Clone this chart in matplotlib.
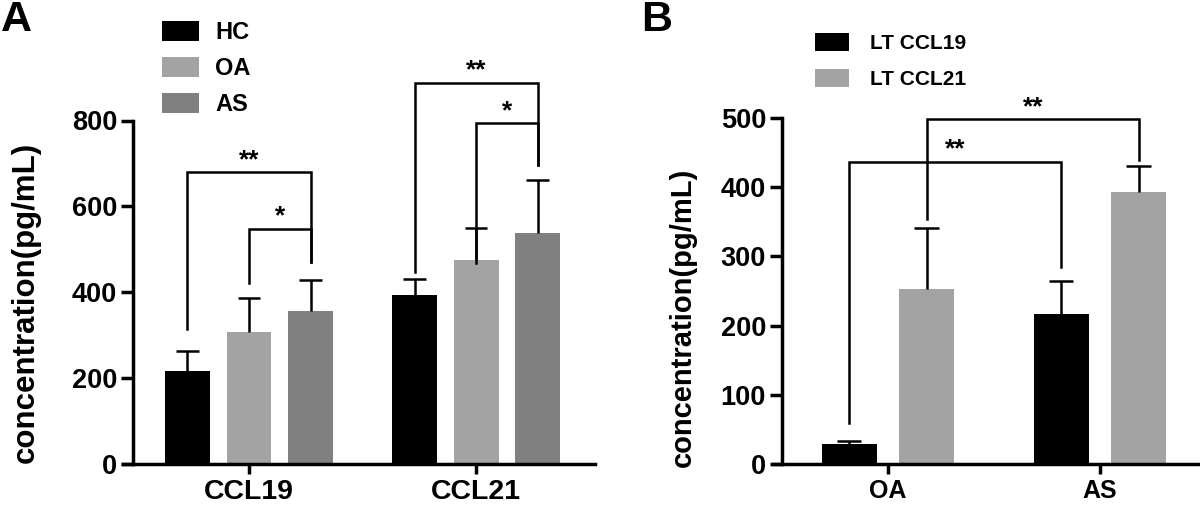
import numpy as np
import matplotlib
matplotlib.use("Agg")
import matplotlib.pyplot as plt

plt.rcParams["font.family"] = ["Liberation Sans", "DejaVu Sans"]
plt.rcParams["font.weight"] = "bold"

# panel A data
chemokines = ["CCL19", "CCL21"]
groups_a = ["HC", "OA", "AS"]
means_a = {"HC": [217.6, 394], "OA": [307, 474], "AS": [357, 539]}
sd_a = {"HC": [46, 37], "OA": [79, 76], "AS": [72, 122]}
colors_a = {"HC": "#000000", "OA": "#a3a3a3", "AS": "#808080"}

# brackets: (group index, from bar, to bar, top, left bottom, right bottom, label)
brackets_a = [
    (0, "HC", "AS", 679, 315, 471, "**"),
    (0, "OA", "AS", 548, 422, 471, "*"),
    (1, "HC", "AS", 888, 448, 697, "**"),
    (1, "OA", "AS", 794, 468, 697, "*"),
]

# panel B data
patients = ["OA", "AS"]
series_b = ["LT CCL19", "LT CCL21"]
means_b = {"LT CCL19": [29.5, 217], "LT CCL21": [253, 392.5]}
sd_b = {"LT CCL19": [3.3, 48], "LT CCL21": [88, 37.5]}
colors_b = {"LT CCL19": "#000000", "LT CCL21": "#a3a3a3"}

brackets_b = [
    ("LT CCL19", 0, 1, 437, 59, 285, "**"),
    ("LT CCL21", 0, 1, 498, 354, 440, "**"),
]

fig = plt.figure(figsize=(12, 5.07), dpi=100)
W, H = 1200, 507


def style_axis(ax, spine_frac, xlabels, xfs):
    for s in ["top", "right"]:
        ax.spines[s].set_visible(False)
    ax.spines["left"].set_linewidth(2.5)
    ax.spines["bottom"].set_linewidth(2.5)
    ax.spines["left"].set_position(("axes", spine_frac))
    ax.tick_params(axis="y", direction="out", length=8.5, width=2.5,
                   labelsize=19.5, pad=3)
    ax.tick_params(axis="x", direction="out", length=7, width=2.5,
                   labelsize=xfs, pad=4)
    ax.set_xticks(range(len(xlabels)))
    ax.set_xticklabels(xlabels, fontweight="bold")
    for lab in ax.get_yticklabels():
        lab.set_fontweight("bold")


def upper_errorbars(ax, xs, means, sds, half):
    tops = np.array(means) + np.array(sds)
    ax.vlines(xs, means, tops, color="black", lw=1.8, zorder=3)
    ax.hlines(tops, xs - half, xs + half, color="black", lw=1.8, zorder=3)


def draw_bracket(ax, x1, x2, top, b1, b2, label):
    ax.plot([x1, x1, x2, x2], [b1, top, top, b2], color="black", lw=1.8,
            clip_on=False, solid_joinstyle="miter")
    ax.text((x1 + x2) / 2, top, label, ha="center", va="bottom",
            fontsize=19, fontweight="bold")


# ---- panel A ----
axA = fig.add_axes([123 / W, 43 / H, 472 / W, 343.5 / H])
x = np.arange(len(chemokines))
offs_a = {"HC": -0.271, "OA": 0.0, "AS": 0.271}
for g in groups_a:
    xs = x + offs_a[g]
    axA.bar(xs, means_a[g], width=0.198, color=colors_a[g], label=g, zorder=2)
    upper_errorbars(axA, xs, means_a[g], sd_a[g], 0.05)
for gi, a, b, top, b1, b2, lab in brackets_a:
    draw_bracket(axA, gi + offs_a[a], gi + offs_a[b], top, b1, b2, lab)
axA.set_xlim(-0.555, 1.524)
axA.set_ylim(0, 800)
axA.set_yticks([0, 200, 400, 600, 800])
style_axis(axA, 10 / 472, chemokines, 20.5)
axA.set_ylabel("concentration(pg/mL)", fontsize=22.5, fontweight="bold", va="center")
axA.yaxis.set_label_coords(-0.207, 0.47)
axA.legend(loc="upper left", bbox_to_anchor=(162 / W, 1 - 21 / H),
           bbox_transform=fig.transFigure, frameon=False,
           handlelength=1.55, handleheight=0.9, handletextpad=0.7,
           labelspacing=0.55, borderpad=0, borderaxespad=0,
           prop={"weight": "bold", "size": 17})

# ---- panel B ----
axB = fig.add_axes([773 / W, 43 / H, 427 / W, 346 / H])
xb = np.arange(len(patients))
offs_b = {"LT CCL19": -0.183, "LT CCL21": 0.183}
for s in series_b:
    xs = xb + offs_b[s]
    axB.bar(xs, means_b[s], width=0.26, color=colors_b[s], label=s, zorder=2)
    upper_errorbars(axB, xs, means_b[s], sd_b[s], 0.058)
for s, i, j, top, b1, b2, lab in brackets_b:
    draw_bracket(axB, i + offs_b[s], j + offs_b[s], top, b1, b2, lab)
axB.set_xlim(-0.542, 1.472)
axB.set_ylim(0, 500)
axB.set_yticks([0, 100, 200, 300, 400, 500])
style_axis(axB, 9 / 427, patients, 18)
axB.set_ylabel("concentration(pg/mL)", fontsize=21, fontweight="bold", va="center")
axB.yaxis.set_label_coords(-0.211, 0.424)
axB.legend(loc="upper left", bbox_to_anchor=(815 / W, 1 - 33 / H),
           bbox_transform=fig.transFigure, frameon=False,
           handlelength=1.63, handleheight=0.94, handletextpad=1.0,
           labelspacing=0.75, borderpad=0, borderaxespad=0,
           prop={"weight": "bold", "size": 15})

fig.text(1 / W, 1 - 0 / H, "A", fontsize=31, fontweight="bold", va="top", ha="left")
fig.text(641 / W, 1 - 0 / H, "B", fontsize=31, fontweight="bold", va="top", ha="left")

fig.savefig("out.png", dpi=100)
